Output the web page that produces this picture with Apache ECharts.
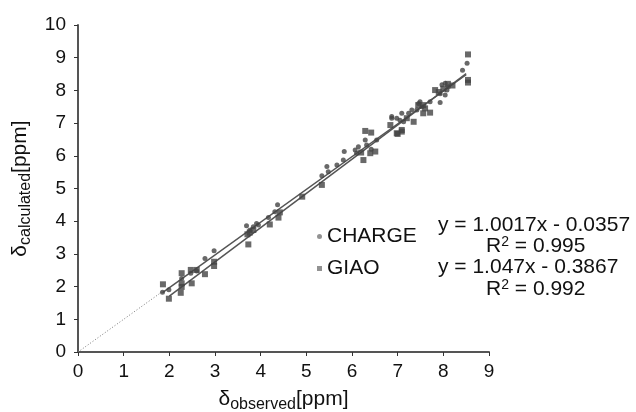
<!DOCTYPE html>
<html><head><meta charset="utf-8">
<script src="https://cdn.jsdelivr.net/npm/echarts@6/dist/echarts.min.js"></script>
<style>html,body{margin:0;padding:0;background:#fff}#c{width:636px;height:412px}</style>
</head><body><div id="c"></div>
<script>
var xTicks = [0,1,2,3,4,5,6,7,8,9];
var yTicks = [0,1,2,3,4,5,6,7,8,9,10];
var chargeData = [
[1.85,1.83],[1.99,1.90],[2.27,2.25],[2.47,2.41],[2.60,2.48],[2.78,2.86],[2.98,3.10],
[3.69,3.86],[3.76,3.72],[3.84,3.83],[3.91,3.93],[3.95,3.88],[4.17,4.11],[4.31,4.29],[4.37,4.50],
[5.34,5.39],[5.45,5.67],[5.48,5.51],[5.67,5.72],[5.83,6.13],[5.81,5.87],[6.07,6.18],[6.10,6.08],
[6.14,6.28],[6.29,6.48],[6.32,6.33],[6.42,6.20],[6.54,6.48],[6.87,7.20],[6.98,7.15],[6.87,7.15],
[7.05,7.09],[7.09,7.30],[7.13,7.04],[7.24,7.30],[7.31,7.40],[7.42,7.40],[7.46,7.60],[7.49,7.65],
[7.53,7.50],[7.71,7.65],[7.93,7.90],[7.97,8.17],[8.04,8.22],[8.08,8.01],[8.11,8.11],[8.42,8.62],
[8.52,8.83],[8.04,7.86],[7.93,7.63]
];
var giaoData = [
[1.86,2.07],[1.99,1.63],[2.27,2.41],[2.27,2.10],[2.25,1.81],[2.27,1.99],[2.47,2.51],[2.49,2.10],
[2.60,2.51],[2.78,2.38],[2.98,2.76],[2.98,2.63],[3.71,3.60],[3.73,3.29],[3.76,3.65],[3.84,3.73],
[4.20,3.90],[4.39,4.11],[4.42,4.27],[4.91,4.75],[5.34,5.11],[6.25,5.87],[6.29,6.76],[6.42,6.71],
[6.40,6.08],[6.51,6.13],[6.20,6.10],[6.84,6.94],[6.98,6.69],[7.00,6.67],[7.09,6.79],[7.09,6.74],
[7.35,7.04],[7.56,7.30],[7.71,7.32],[7.56,7.55],[7.82,8.01],[7.60,7.45],[7.90,7.95],[8.00,8.05],
[8.10,8.20],[8.20,8.15],[8.54,9.10],[8.54,8.32],[8.54,8.24],[7.20,7.15],[7.45,7.55]
];
var chargeFit = {slope:1.0017, intercept:-0.0357, from:1.85, to:8.5};
var giaoFit = {slope:1.047, intercept:-0.3867, from:2.0, to:8.5};
var refLine = [[0,0],[1.85,1.85]];

function fitLine(f){return [[f.from,f.slope*f.from+f.intercept],[f.to,f.slope*f.to+f.intercept]];}

var chart = echarts.init(document.getElementById('c'));
var ff = '"Liberation Sans", Arial, sans-serif';
var ink = '#444';
var rSup = {n:{fontSize:21,fontFamily:ff,fill:'#111',lineHeight:22},s:{fontSize:14,fontFamily:ff,fill:'#111',lineHeight:22,padding:[0,0,9,0]}};
chart.setOption({
  animation:false,
  grid:{left:78,right:147,top:25,bottom:60,containLabel:false,outerBoundsMode:'none'},
  xAxis:{type:'value',min:0,max:9,interval:1,
    axisLine:{lineStyle:{color:'#555',width:2}},
    axisTick:{show:true,length:4,lineStyle:{color:'#333'}},
    splitLine:{show:false},
    axisLabel:{color:'#111',fontSize:19,fontFamily:ff,margin:10},
    name:'{d|δ}{s|observed}{d|[ppm]}',nameLocation:'middle',nameGap:34,
    nameTextStyle:{rich:{d:{fontSize:21,fontFamily:ff,color:'#111'},s:{fontSize:16,fontFamily:ff,color:'#111',padding:[11,0,0,0]}}}
  },
  yAxis:{type:'value',min:0,max:10,interval:1,
    axisLine:{show:true,lineStyle:{color:'#555',width:2}},
    axisTick:{show:true,length:4,lineStyle:{color:'#333'}},
    splitLine:{show:false},
    axisLabel:{color:'#111',fontSize:19,fontFamily:ff,margin:12},
    name:'{d|δ}{s|calculated}{d|[ppm]}',nameLocation:'middle',nameGap:44,
    nameTextStyle:{rich:{d:{fontSize:21,fontFamily:ff,color:'#111'},s:{fontSize:16,fontFamily:ff,color:'#111',padding:[11,0,0,0]}}}
  },
  legend:{show:true,orient:'vertical',left:312,top:221,itemGap:11,itemWidth:5,itemHeight:5,
    textStyle:{fontSize:21,fontFamily:ff,color:'#111'},
    data:[{name:'CHARGE',icon:'circle',itemStyle:{color:'#777'}},{name:'GIAO',icon:'rect',itemStyle:{color:'#777'}}]},
  graphic:[
    {type:'text',left:438,top:215,style:{text:'y = 1.0017x - 0.0357',fontSize:21,fontFamily:ff,fill:'#111'}},
    {type:'text',left:486,top:235,style:{text:'{n|R}{s|2}{n| = 0.995}',rich:rSup}},
    {type:'text',left:438,top:257,style:{text:'y = 1.047x - 0.3867',fontSize:21,fontFamily:ff,fill:'#111'}},
    {type:'text',left:486,top:278,style:{text:'{n|R}{s|2}{n| = 0.992}',rich:rSup}}
  ],
  series:[
    {name:'CHARGE',type:'scatter',data:chargeData,symbol:'circle',symbolSize:5,itemStyle:{color:ink},z:3},
    {name:'GIAO',type:'scatter',data:giaoData,symbol:'rect',symbolSize:6,itemStyle:{color:ink},z:3},
    {name:'fitC',type:'line',data:fitLine(chargeFit),symbol:'none',lineStyle:{color:'#555',width:1.5},z:2},
    {name:'fitG',type:'line',data:fitLine(giaoFit),symbol:'none',lineStyle:{color:'#555',width:1.5},z:2},
    {name:'ref',type:'line',data:refLine,symbol:'none',lineStyle:{color:'#777',width:1,type:[1,2]},z:2}
  ]
});
</script></body></html>
